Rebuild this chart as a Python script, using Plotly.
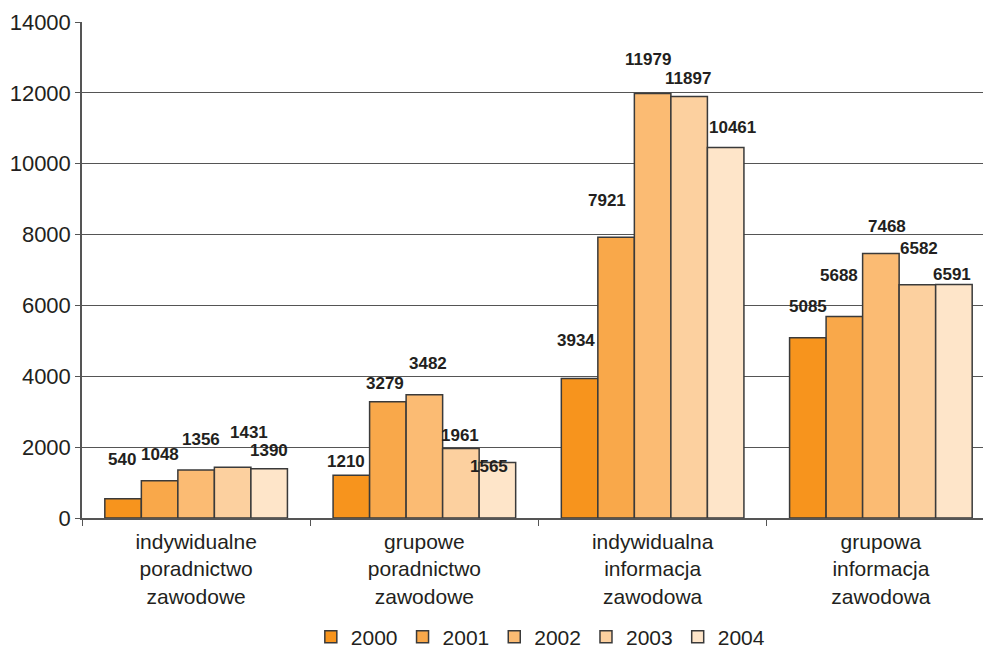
import plotly.graph_objects as go

categories = ["indywidualne<br>poradnictwo<br>zawodowe",
              "grupowe<br>poradnictwo<br>zawodowe",
              "indywidualna<br>informacja<br>zawodowa",
              "grupowa<br>informacja<br>zawodowa"]
series_names = ["2000", "2001", "2002", "2003", "2004"]
v2000 = [540, 1210, 3934, 5085]
v2001 = [1048, 3279, 7921, 5688]
v2002 = [1356, 3482, 11979, 7468]
v2003 = [1431, 1961, 11897, 6582]
v2004 = [1390, 1565, 10461, 6591]
values = [v2000, v2001, v2002, v2003, v2004]
y_ticks = [0, 2000, 4000, 6000, 8000, 10000, 12000, 14000]
y_tick_labels = [str(t) for t in y_ticks]

colors = ["#F7941D", "#F9A84A", "#FBBB73", "#FCD09F", "#FEE5C9"]

# label offsets in px (dx, dy relative to bar top centre) indexed [series][category]
label_dx = [[-1, -5, -4, 0], [0, -3, -9, -5], [5, 4, -5, 6], [16, -1, -1, 2], [0, -8, 7, -2]]
label_dy = [[-39, -14, -38, -31], [-26, -18, -37, -41], [-30, -31, -34, -27],
            [-35, -13, -18, -36], [-18, 4, -20, -10]]

# the plot area runs slightly past the right edge of the 983px window, as in the original
W, H = 996, 648
ML, MR, MT, MB = 82, 1, 22, 130
BARGAP = 0.2
FONT = "Liberation Sans, Arial, Helvetica, sans-serif"

fig = go.Figure()
for name, vals, c in zip(series_names, values, colors):
    fig.add_trace(go.Bar(name=name, x=categories, y=vals,
                         marker=dict(color=c, line=dict(color="#3a3a3a", width=1.5))))

plot_w = W - ML - MR
pitch = plot_w / len(categories) * (1 - BARGAP) / len(series_names)
annots = []
for j, vals in enumerate(values):
    for i, v in enumerate(vals):
        annots.append(dict(x=categories[i], y=v, text="<b>%d</b>" % v, showarrow=False,
                           xshift=(j - 2) * pitch + label_dx[j][i], yshift=-label_dy[j][i],
                           font=dict(size=17, color="#231f20", family=FONT)))

fig.update_layout(
    width=W, height=H, margin=dict(l=ML, r=MR, t=MT, b=MB, autoexpand=False),
    paper_bgcolor="white", plot_bgcolor="white",
    barmode="group", bargap=BARGAP, bargroupgap=0,
    font=dict(family=FONT, size=20, color="#231f20"),
    annotations=annots,
    legend=dict(orientation="h", x=0.502, xanchor="center", y=-0.24, yanchor="middle",
                font=dict(size=21), itemwidth=30, traceorder="normal"),
    xaxis=dict(showline=True, linecolor="#555555", linewidth=1.5, ticks="outside",
               tickson="boundaries", ticklen=6, tickcolor="#555555",
               tickfont=dict(size=21), ticklabelstandoff=4, automargin=False),
    yaxis=dict(range=[0, 14000], tickvals=y_ticks, ticktext=y_tick_labels, showgrid=True,
               gridcolor="#555555", gridwidth=1, showline=True, linecolor="#555555",
               linewidth=1.5, ticks="outside", ticklen=5, tickcolor="#555555",
               tickfont=dict(size=22), zeroline=False, automargin=False),
)
fig.write_html("out.html", config={"displayModeBar": False},
               post_script="document.body.style.margin='0';document.body.style.overflow='hidden';")
